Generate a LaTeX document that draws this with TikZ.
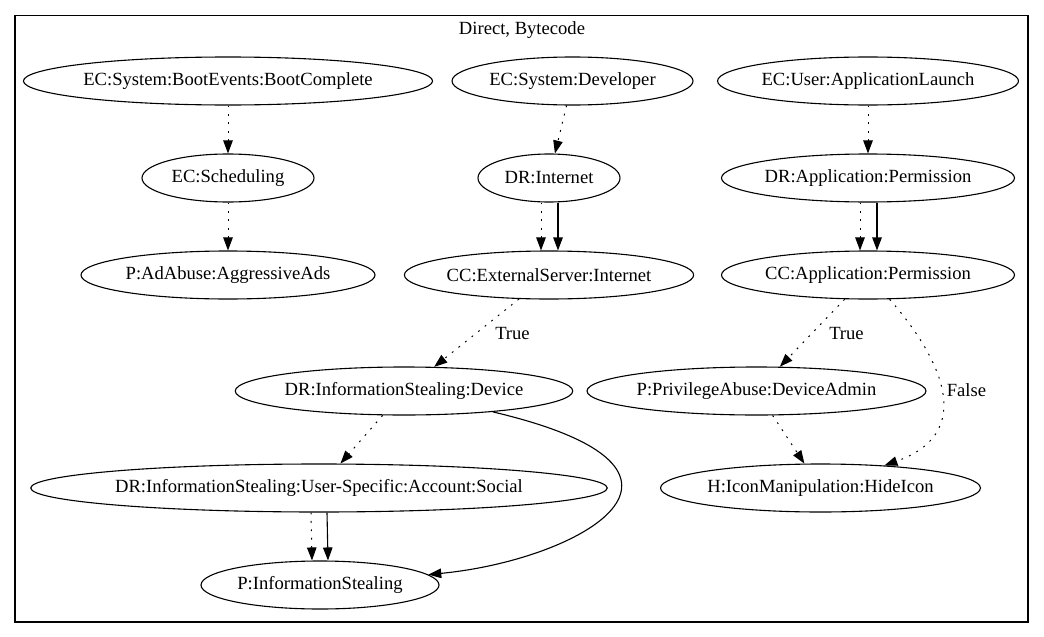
\documentclass[tikz,border=0pt]{standalone}
\usepackage{fontspec}
\setmainfont{Liberation Serif}
\usetikzlibrary{shapes.geometric,arrows.meta}
\begin{document}
\begin{tikzpicture}[x=1pt,y=-1pt,
  txt/.style={font=\rmfamily\fontsize{18.6}{22}\selectfont, inner sep=0pt},
  gnode/.style={txt, ellipse, draw, line width=1.1pt, minimum height=48pt},
  tip/.style={-{Triangle[length=13pt,width=9.5pt]}},
  dotedge/.style={tip, line width=1pt, dash pattern=on 1.8pt off 6.6pt},
  solidedge/.style={tip, line width=1.1pt}]
\useasboundingbox (0,0) rectangle (1044,637);
\draw[line width=1.1pt] (15,15.5) rectangle (1028,622);
\node[txt] (title) at (522,30) {Direct, Bytecode};

% rank 1
\node[gnode, minimum width=402pt] (boot) at (228,81) {EC:System:BootEvents:BootComplete};
\node[gnode, minimum width=241pt] (dev) at (572.5,81) {EC:System:Developer};
\node[gnode, minimum width=298pt] (launch) at (868,81) {EC:User:ApplicationLaunch};
% rank 2
\node[gnode, minimum width=172pt] (sched) at (228,178) {EC:Scheduling};
\node[gnode, minimum width=142pt] (drint) at (549,178) {DR:Internet};
\node[gnode, minimum width=293pt] (drapp) at (868,178) {DR:Application:Permission};
% rank 3
\node[gnode, minimum width=294pt] (ads) at (228,275) {P:AdAbuse:AggressiveAds};
\node[gnode, minimum width=286pt] (ccext) at (549,275) {CC:ExternalServer:Internet};
\node[gnode, minimum width=293pt] (ccapp) at (868,275) {CC:Application:Permission};
% rank 4
\node[gnode, minimum width=328pt] (drdev) at (404,391) {DR:InformationStealing:Device};
\node[gnode, minimum width=329pt] (priv) at (756.5,391) {P:PrivilegeAbuse:DeviceAdmin};
% rank 5
\node[gnode, minimum width=548pt] (social) at (319,488) {DR:InformationStealing:User-Specific:Account:Social};
\node[gnode, minimum width=315pt] (hide) at (820.5,488) {H:IconManipulation:HideIcon};
% rank 6
\node[gnode, minimum width=238pt] (pinfo) at (320,585) {P:InformationStealing};

% edges
\draw[dotedge] (boot) -- (sched);
\draw[dotedge] (sched) -- (ads);
\draw[dotedge] (dev) -- (drint);
\draw[dotedge] ([xshift=-8pt]drint.south) -- ([xshift=-8pt]ccext.north);
\draw[solidedge] ([xshift=9pt]drint.south) -- ([xshift=9pt]ccext.north);
\draw[dotedge] (launch) -- (drapp);
\draw[dotedge] ([xshift=-8pt]drapp.south) -- ([xshift=-8pt]ccapp.north);
\draw[solidedge] ([xshift=9pt]drapp.south) -- ([xshift=9pt]ccapp.north);
\draw[dotedge] (ccext) -- (drdev);
\node[txt] (ltrue1) at (512.5,333) {True};
\draw[dotedge] (drdev) -- (social);
\draw[dotedge] ([xshift=-8pt]social.south) -- ([xshift=-8pt]pinfo.north);
\draw[solidedge] ([xshift=8pt]social.south) -- ([xshift=8pt]pinfo.north);
\draw[solidedge] (drdev) .. controls (740,470) and (580,560) .. (pinfo);
\draw[dotedge] (ccapp) -- (priv);
\node[txt] (ltrue2) at (846.5,333) {True};
\draw[dotedge] (ccapp) .. controls (930,345) and (985,430) .. (hide);
\node[txt] (lfalse) at (966.5,390) {False};
\draw[dotedge] (priv) -- (hide);
\end{tikzpicture}
\end{document}
